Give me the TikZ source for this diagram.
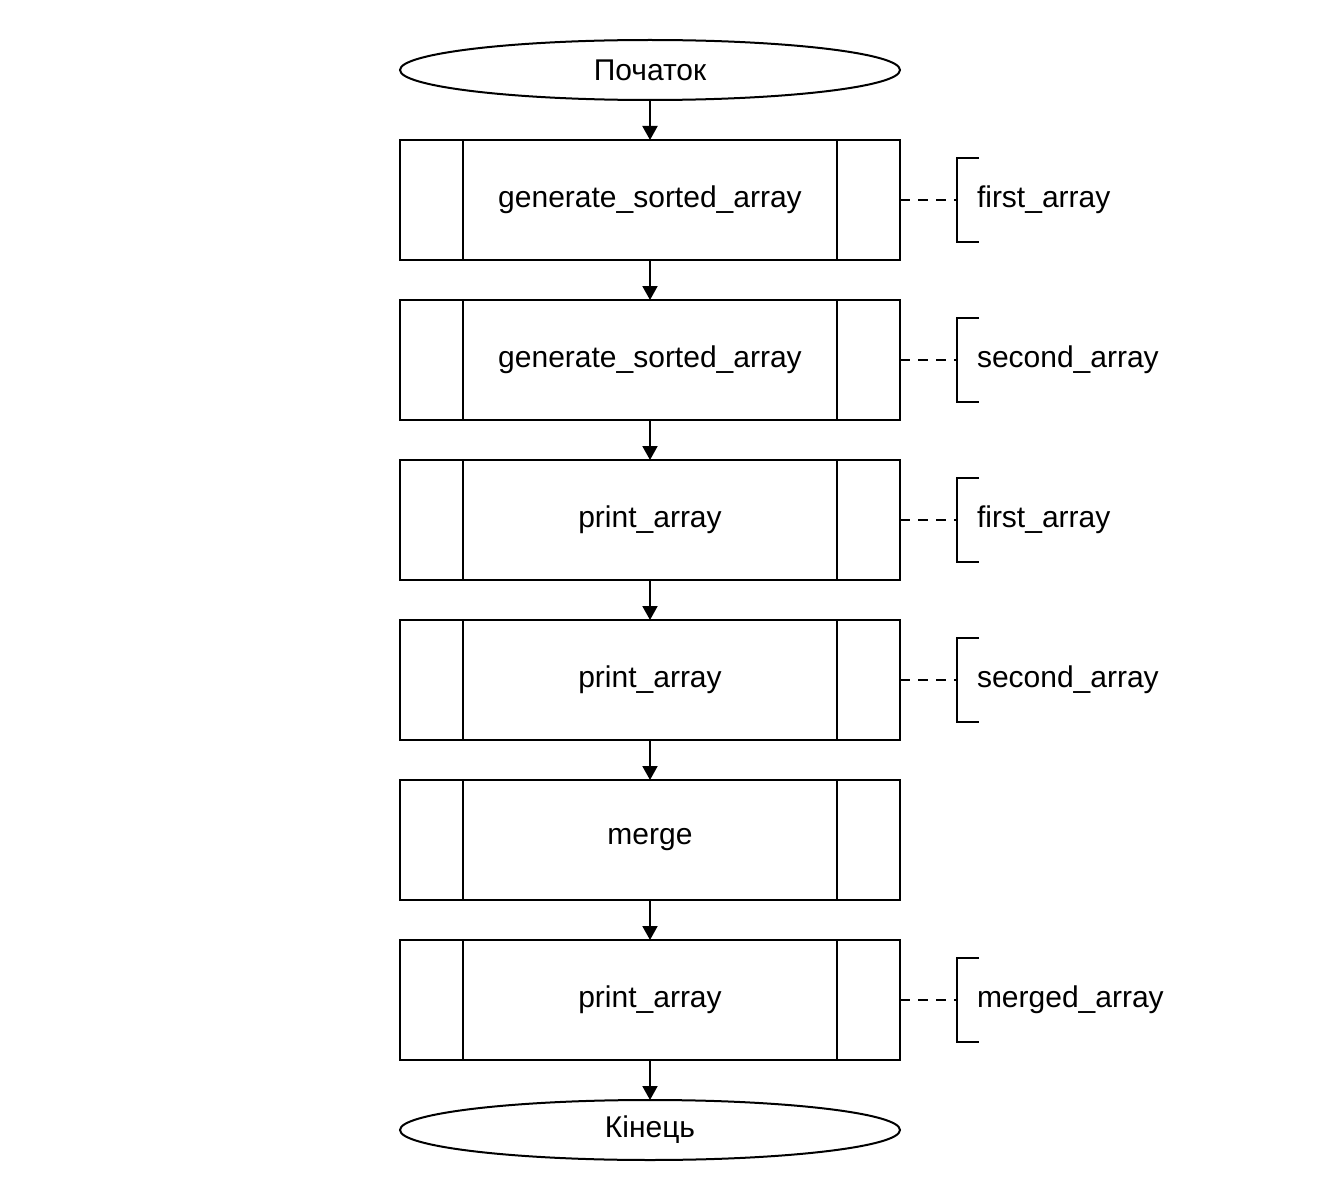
\documentclass[tikz,border=0pt]{standalone}
\usepackage{fontspec}
\setmainfont{Liberation Sans}
\usetikzlibrary{positioning, shapes.geometric, arrows.meta}

\begin{document}
\begin{tikzpicture}[
  font=\fontsize{15pt}{18pt}\selectfont,
  line width=1pt,
  node distance=20pt and 28.5pt,
  term/.style={draw, ellipse, minimum width=250pt, minimum height=30pt, inner sep=0pt, outer sep=0pt},
  proc/.style={draw, rectangle, minimum width=250pt, minimum height=60pt, inner sep=0pt, outer sep=0pt,
               path picture={\draw ([xshift=31.5pt]path picture bounding box.north west)
                 -- ([xshift=31.5pt]path picture bounding box.south west)
                 ([xshift=-31.5pt]path picture bounding box.north east)
                 -- ([xshift=-31.5pt]path picture bounding box.south east);}},
  note/.style={minimum height=42pt, inner xsep=10pt, inner ysep=0pt, outer sep=0pt},
  flow/.style={-{Triangle[length=7pt, width=7.5pt]}},
  noteline/.style={dash pattern=on 5pt off 4pt, line width=0.7pt},
]
\useasboundingbox (0,0) rectangle (662pt,-602pt);

\node[term] (start) at (325pt,-35pt) {Початок};
\node[proc, below=of start] (gen1) {generate\_sorted\_array};
\node[proc, below=of gen1] (gen2) {generate\_sorted\_array};
\node[proc, below=of gen2] (prn1) {print\_array};
\node[proc, below=of prn1] (prn2) {print\_array};
\node[proc, below=of prn2] (mrg) {merge};
\node[proc, below=of mrg] (prn3) {print\_array};
\node[term, below=of prn3] (stop) {Кінець};

% comments on the calls
\node[note, right=of gen1] (ngen1) {first\_array};
\node[note, right=of gen2] (ngen2) {second\_array};
\node[note, right=of prn1] (nprn1) {first\_array};
\node[note, right=of prn2] (nprn2) {second\_array};
\node[note, right=of prn3] (nprn3) {merged\_array};

\draw[flow] (start) -- (gen1);
\draw[flow] (gen1) -- (gen2);
\draw[flow] (gen2) -- (prn1);
\draw[flow] (prn1) -- (prn2);
\draw[flow] (prn2) -- (mrg);
\draw[flow] (mrg) -- (prn3);
\draw[flow] (prn3) -- (stop);

\foreach \p/\n in {gen1/ngen1, gen2/ngen2, prn1/nprn1, prn2/nprn2, prn3/nprn3} {
  \draw[noteline] (\p.east) -- (\n.west);
  \draw ([xshift=11pt]\n.north west) -- (\n.north west)
        -- (\n.south west) -- ([xshift=11pt]\n.south west);
}

\end{tikzpicture}
\end{document}
